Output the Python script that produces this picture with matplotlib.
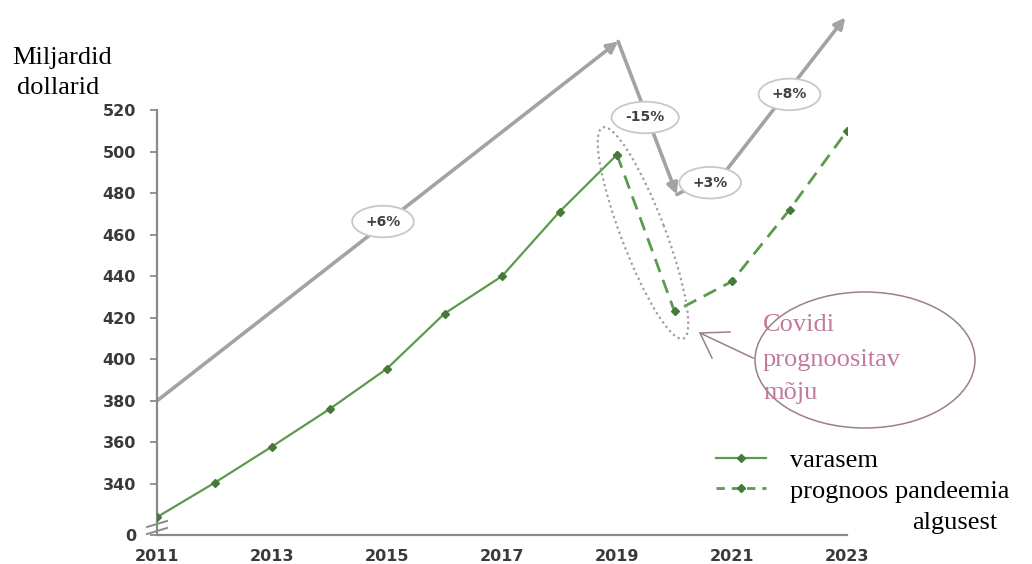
import matplotlib
matplotlib.use("Agg")
import matplotlib.pyplot as plt
from matplotlib.patches import Ellipse
from matplotlib.lines import Line2D

# data
years_before = [2011, 2012, 2013, 2014, 2015, 2016, 2017, 2018, 2019]
values_before = [324, 340.5, 358, 376, 395.5, 422, 440, 471, 498.5]
years_forecast = [2019, 2020, 2021, 2022, 2023]
values_forecast = [498.5, 423, 437.5, 472, 510]

# grey trend arrows (year, value) and their growth labels
trend_x = [2011, 2019.02, 2020.04, 2020.91, 2022.97]
trend_y = [380, 553, 479.3, 491.3, 564.6]
trend_labels = ["+6%", "-15%", "+3%", "+8%"]
trend_label_x = [2014.93, 2019.49, 2020.62, 2022.0]
trend_label_y = [466.3, 516.4, 485.0, 527.5]

y_ticks = [340, 360, 380, 400, 420, 440, 460, 480, 500, 520]
y_break = 315.4
x_ticks = [2011, 2013, 2015, 2017, 2019, 2021, 2023]

W, H = 1032, 564
SERIF = "Liberation Serif"
GREEN = "#5b9b4b"
GREEN_DARK = "#467a38"
GREY = "#a3a3a3"
AXIS = "#8a8a8a"

fig = plt.figure(figsize=(W / 100, H / 100), dpi=100)
ax = fig.add_axes([157 / W, 1 - 535 / H, 690 / W, 425 / H])

ax.plot(years_before, values_before, color=GREEN, lw=1.6, marker="D",
        ms=4, mfc=GREEN_DARK, mec=GREEN_DARK, zorder=3)
ax.plot(years_forecast, values_forecast, color=GREEN, lw=2.0,
        ls=(0, (5, 3)), marker="D", ms=4, mfc=GREEN_DARK, mec=GREEN_DARK,
        zorder=3)

# trend arrows: arrowheads at the peak, trough and end
heads = [True, True, False, True]
for i in range(len(trend_x) - 1):
    style = "-|>" if heads[i] else "-"
    ax.annotate("", xy=(trend_x[i + 1], trend_y[i + 1]),
                xytext=(trend_x[i], trend_y[i]),
                arrowprops=dict(arrowstyle=style, color=GREY, lw=2.6,
                                mutation_scale=16, shrinkA=0, shrinkB=0),
                annotation_clip=False, zorder=2)
for lab, lx, ly in zip(trend_labels, trend_label_x, trend_label_y):
    ax.text(lx, ly, lab, ha="center", va="center", fontsize=10,
            fontweight="bold", color="#404040", zorder=4, clip_on=False,
            bbox=dict(boxstyle="ellipse,pad=0.3", fc="white", ec="#c8c8c8",
                      lw=1.3))

ax.set_xlim(2011, 2023)
ax.set_ylim(y_break, 520)
ax.set_yticks([y_break] + y_ticks)
ax.set_yticklabels(["0"] + [str(v) for v in y_ticks])
ax.set_xticks(x_ticks)
ax.set_xticklabels([str(v) for v in x_ticks])
for s in ("top", "right"):
    ax.spines[s].set_visible(False)
for s in ("left", "bottom"):
    ax.spines[s].set_color(AXIS)
    ax.spines[s].set_linewidth(1.6)
ax.tick_params(axis="y", length=5, width=1.3, color=AXIS, pad=10,
               labelsize=11.5, labelcolor="#3a3a3a")
ax.tick_params(axis="x", length=0, pad=10, labelsize=11.5,
               labelcolor="#3a3a3a")
for t in ax.get_xticklabels() + ax.get_yticklabels():
    t.set_fontweight("bold")

leg = ax.legend(
    handles=[
        Line2D([], [], color=GREEN, lw=1.6, marker="D", ms=4,
               mfc=GREEN_DARK, mec=GREEN_DARK),
        Line2D([], [], color=GREEN, lw=2.0, ls=(0, (3, 2.5)), marker="D",
               ms=4, mfc=GREEN_DARK, mec=GREEN_DARK),
    ],
    labels=["varasem", "prognoos pandeemia"],
    loc="upper left", bbox_to_anchor=(716 / W, 1 - 449 / H),
    bbox_transform=fig.transFigure, frameon=False,
    prop={"family": SERIF, "size": 19}, handlelength=1.9,
    handletextpad=0.9, labelspacing=0.25, borderpad=0, borderaxespad=0)

# overlay in image pixels for the hand-drawn callout
ov = fig.add_axes([0, 0, 1, 1])
ov.set_xlim(0, W)
ov.set_ylim(H, 0)
ov.axis("off")

# axis break marks
for y0 in (527, 534):
    ov.plot([147, 167], [y0, y0 - 6], color=AXIS, lw=1.4)

ov.add_patch(Ellipse((643, 233), 226, 44, angle=69.1, fill=False,
                     ec="#a89aa0", lw=1.6, ls=(0, (1, 1.5))))
ov.add_patch(Ellipse((865, 360), 220, 136, fill=False, ec="#9a7f8c", lw=1.1))
ov.plot([753, 700, 730], [358, 333, 332], color="#9a7f8c", lw=1.1)
ov.plot([700, 712], [333, 358], color="#9a7f8c", lw=1.1)
for txt, ty in zip(["Covidi", "prognoositav", "mõju"], [325, 360, 393]):
    ov.text(763, ty, txt, ha="left", va="center", family=SERIF, fontsize=19,
            color="#c27b9c")

ov.text(997, 523, "algusest", ha="right", va="center", family=SERIF,
        fontsize=19, color="black")
ov.text(62, 58, "Miljardid", ha="center", va="center", family=SERIF,
        fontsize=19, color="black")
ov.text(58, 88, "dollarid", ha="center", va="center", family=SERIF,
        fontsize=19, color="black")

fig.savefig("out.png", dpi=100)
